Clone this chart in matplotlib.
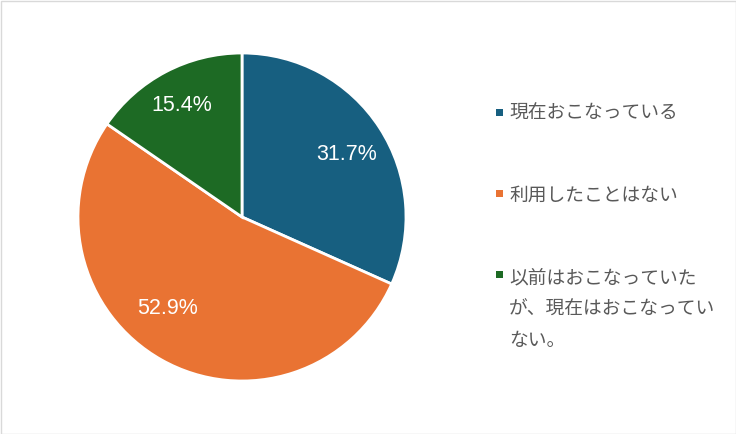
import matplotlib
matplotlib.use("Agg")
import matplotlib.pyplot as plt
from matplotlib.patches import Rectangle

plt.rcParams['font.family'] = ['Noto Sans CJK JP', 'DejaVu Sans']

# data
labels = ["現在おこなっている", "利用したことはない", "以前はおこなっていた\nが、現在はおこなってい\nない。"]
values = [31.7, 52.9, 15.4]
colors = ["#175f80", "#e97333", "#1d6a24"]

# label placement (axes units, radius = 1)
pct_pos = [(0.638, 0.382), (-0.456, -0.559), (-0.368, 0.681)]

fig = plt.figure(figsize=(7.36, 4.34), dpi=100)
W, H = 736, 434

# pie axes: centre (242,217) px, radius 164 px
cx, cy, r = 242, 217, 164
ax = fig.add_axes([(cx - r) / W, (H - cy - r) / H, 2 * r / W, 2 * r / H])
wedges, texts, autotexts = ax.pie(
    values, colors=colors, startangle=90, counterclock=False,
    autopct='%1.1f%%', pctdistance=0.71, radius=1.0,
    wedgeprops=dict(edgecolor='white', linewidth=2))
for t, p in zip(autotexts, pct_pos):
    t.set_position(p)
    t.set_color('white')
    t.set_fontsize(15.5)
    t.set_family(['Liberation Sans', 'DejaVu Sans'])
ax.set_xlim(-1.0, 1.0)
ax.set_ylim(-1.0, 1.0)
ax.set_aspect('equal')
ax.axis('off')

# legend drawn by hand
mark_y = [112, 193, 274]
text_y = [113, 195, 267]
for lab, col, my, ty in zip(labels, colors, mark_y, text_y):
    fig.patches.append(Rectangle((496 / W, (H - my - 3.5) / H), 7 / W, 7 / H,
                                 transform=fig.transFigure, facecolor=col,
                                 edgecolor='none'))
    fig.text(509 / W, (H - ty) / H, lab, fontsize=13.5, color='#595959',
             va='top' if '\n' in lab else 'center', ha='left',
             linespacing=1.65)

# outer border
fig.patches.append(Rectangle((0.5 / W, 0.5 / H), (W - 1) / W, (H - 1) / H,
                             transform=fig.transFigure, facecolor='none',
                             edgecolor='#d9d9d9', linewidth=1))

fig.savefig("out.png", dpi=100, facecolor='white')
